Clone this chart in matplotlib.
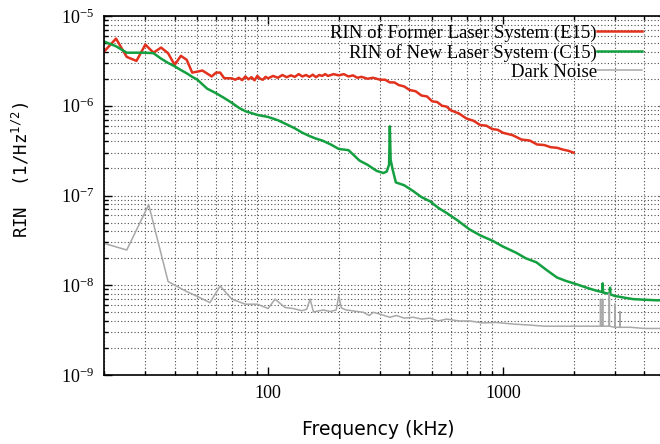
import numpy as np
import matplotlib
matplotlib.use("Agg")
import matplotlib.pyplot as plt

plt.rcParams['font.family'] = ['Liberation Serif', 'DejaVu Serif']
plt.rcParams['mathtext.default'] = 'regular'

# RIN of Former Laser System (E15)  - frequency (kHz), RIN
former_f = [20, 22.5, 25, 27.5, 30, 32.5, 35, 37.5, 40, 42.5, 45, 47.5, 50, 52.5,
            57.5, 60, 62.5, 65, 70, 72.5, 75, 77.5, 80, 82.5, 85, 87.5, 90, 92.5,
            95, 97.5, 100, 105, 110, 115, 120, 125, 130, 135, 140, 145, 150, 155,
            160, 165, 170, 175, 180, 190, 200, 210, 220, 230, 240, 250, 265, 280,
            300, 315, 330, 345, 360, 380, 400, 425, 450, 475, 500, 525, 550, 575,
            600, 650, 700, 750, 800, 850, 900, 950, 1000, 1100, 1200, 1300, 1400,
            1500, 1600, 1700, 1800, 1900, 2000]
former_rin = [4.0e-6, 5.6e-6, 3.5e-6, 3.16e-6, 4.8e-6, 3.9e-6, 4.45e-6, 3.85e-6,
              2.85e-6, 3.6e-6, 3.25e-6, 2.34e-6, 2.4e-6, 2.47e-6, 2.12e-6, 2.34e-6,
              2.34e-6, 2.03e-6, 2.02e-6, 1.95e-6, 2.05e-6, 1.93e-6, 2.12e-6, 1.97e-6,
              2.08e-6, 1.92e-6, 2.15e-6, 2.0e-6, 1.95e-6, 2.1e-6, 2.02e-6, 2.15e-6,
              2.05e-6, 2.2e-6, 2.08e-6, 2.18e-6, 2.1e-6, 2.25e-6, 2.12e-6, 2.2e-6,
              2.1e-6, 2.22e-6, 2.08e-6, 2.2e-6, 2.15e-6, 2.25e-6, 2.15e-6, 2.25e-6,
              2.18e-6, 2.25e-6, 2.12e-6, 2.18e-6, 2.05e-6, 2.1e-6, 2.0e-6, 2.05e-6,
              1.95e-6, 1.95e-6, 1.82e-6, 1.82e-6, 1.7e-6, 1.64e-6, 1.5e-6, 1.45e-6,
              1.3e-6, 1.27e-6, 1.12e-6, 1.1e-6, 1.0e-6, 9.8e-7, 8.9e-7, 8.2e-7,
              7.2e-7, 6.8e-7, 6.1e-7, 6.0e-7, 5.5e-7, 5.4e-7, 5.0e-7, 4.7e-7, 4.2e-7,
              4.1e-7, 3.7e-7, 3.65e-7, 3.45e-7, 3.4e-7, 3.25e-7, 3.15e-7, 3.0e-7]

# RIN of New Laser System (C15)
new_f = [20, 22.5, 25, 27.5, 30, 32.5, 35, 37.5, 40, 42.5, 45, 47.5, 50, 55, 60,
         65, 70, 75, 80, 90, 100, 110, 120, 130, 140, 150, 160, 170, 185, 200, 220,
         245, 265, 290, 310, 320, 327.5, 330, 332.5, 340, 350, 380, 415, 450, 490,
         530, 575, 640, 720, 800, 910, 1000, 1140, 1250, 1390, 1550, 1700, 1850,
         2050, 2300, 2500, 2650, 2660, 2670, 2850, 2860, 2870, 3000, 3260, 3600,
         4000, 4500, 5000]
new_rin = [5.2e-6, 4.6e-6, 3.9e-6, 3.9e-6, 3.9e-6, 3.85e-6, 3.35e-6, 3.0e-6,
           2.75e-6, 2.5e-6, 2.3e-6, 2.1e-6, 1.95e-6, 1.55e-6, 1.38e-6, 1.22e-6,
           1.08e-6, 9.5e-7, 8.7e-7, 7.9e-7, 7.5e-7, 6.9e-7, 6.2e-7, 5.6e-7, 5.0e-7,
           4.6e-7, 4.3e-7, 4.1e-7, 3.7e-7, 3.3e-7, 3.2e-7, 2.45e-7, 2.2e-7, 1.88e-7,
           1.78e-7, 1.85e-7, 2.2e-7, 5.9e-7, 2.5e-7, 1.9e-7, 1.4e-7, 1.3e-7, 1.12e-7,
           9.6e-8, 8.6e-8, 7.3e-8, 6.4e-8, 5.3e-8, 4.2e-8, 3.6e-8, 3.1e-8, 2.7e-8,
           2.3e-8, 2.0e-8, 1.8e-8, 1.45e-8, 1.22e-8, 1.12e-8, 1.03e-8, 9.3e-9, 8.7e-9,
           8.4e-9, 1.05e-8, 8.3e-9, 8.0e-9, 9.4e-9, 7.9e-9, 7.6e-9, 7.3e-9, 7.0e-9,
           6.9e-9, 6.8e-9, 6.8e-9]

# Dark Noise
dark_f = [20, 25, 31, 37.5, 45, 50, 56.5, 62.5, 70, 80, 90, 100, 107, 118, 128, 139,
          146, 151, 156, 172, 184, 195, 200, 205, 215, 254, 270, 280, 300, 330, 352,
          380, 415, 450, 489, 530, 576, 650, 724, 820, 940, 1100, 1300, 1500, 1800,
          2200, 2600, 2606, 2612, 2655, 2660, 2665, 2835, 2840, 2845, 2995, 3000,
          3005, 3145, 3150, 3155, 3500, 4000, 4660, 5000]
dark_rin = [2.93e-8, 2.47e-8, 7.9e-8, 1.1e-8, 8.5e-9, 7.5e-9, 6.4e-9, 9.8e-9, 7.0e-9,
            6.15e-9, 6.15e-9, 5.5e-9, 7.0e-9, 5.65e-9, 5.5e-9, 5.2e-9, 5.4e-9, 7.0e-9,
            5.05e-9, 5.3e-9, 5.1e-9, 5.3e-9, 7.6e-9, 5.6e-9, 5.3e-9, 5.0e-9, 4.6e-9,
            5.0e-9, 4.76e-9, 4.4e-9, 4.6e-9, 4.3e-9, 4.4e-9, 4.2e-9, 4.3e-9, 4.0e-9,
            4.2e-9, 4.0e-9, 4.0e-9, 3.8e-9, 3.85e-9, 3.7e-9, 3.6e-9, 3.5e-9, 3.5e-9,
            3.5e-9, 3.5e-9, 7.0e-9, 3.5e-9, 3.5e-9, 7.0e-9, 3.5e-9, 3.5e-9, 8.1e-9,
            3.5e-9, 3.4e-9, 6.2e-9, 3.4e-9, 3.4e-9, 5.1e-9, 3.4e-9, 3.4e-9, 3.3e-9,
            3.3e-9, 3.3e-9]

yticks = [1e-9, 1e-8, 1e-7, 1e-6, 1e-5]
ytick_labels = ['10$^{-9}$', '10$^{-8}$', '10$^{-7}$', '10$^{-6}$', '10$^{-5}$']
xticks = [100, 1000]
xtick_labels = ['100', '1000']

fig = plt.figure(figsize=(6.6, 4.44), dpi=100)
ax = fig.add_axes([104/660, 1-375/444, 563/660, 359/444])

ax.plot(former_f, former_rin, color='#e2321e', lw=1.8, label='RIN of Former Laser System (E15)')
ax.plot(new_f, new_rin, color='#14a040', lw=1.8, label='RIN of New Laser System (C15)')
ax.plot(dark_f, dark_rin, color='#a8a8a8', lw=1.1, label='Dark Noise')

ax.set_xscale('log')
ax.set_yscale('log')
ax.set_xlim(20, 5000)
ax.set_ylim(1e-9, 1e-5)
ax.set_xticks(xticks)
ax.set_xticklabels(xtick_labels)
ax.set_yticks(yticks)
ax.set_yticklabels(ytick_labels)

ax.tick_params(which='both', direction='in', top=True, right=True, labelsize=13, width=1)
ax.tick_params(which='major', length=6, pad=7)
ax.tick_params(which='minor', length=3)
ax.grid(which='minor', axis='x', color='0.3', linestyle=(0, (1, 2)), lw=0.8)
ax.grid(which='both', axis='y', color='0.3', linestyle=(0, (1, 2)), lw=0.8)
for s in ax.spines.values():
    s.set_linewidth(1.2)

ax.set_xlabel('Frequency (kHz)', fontfamily='DejaVu Sans', fontsize=13.5)
ax.set_ylabel('RIN  (1/Hz$^{1/2}$)', fontfamily='DejaVu Sans Mono', fontsize=12.5)
ax.xaxis.set_label_coords(0.4876, -0.125)
ax.yaxis.set_label_coords(-0.128, 0.572)

ax.legend(loc='upper right', bbox_to_anchor=(642/660, 1-24/444), bbox_transform=fig.transFigure,
          frameon=False, markerfirst=False, handlelength=2.4, handletextpad=0.0,
          borderpad=0, borderaxespad=0, labelspacing=0.1, fontsize=13.5)

fig.savefig('out.png', dpi=100)
